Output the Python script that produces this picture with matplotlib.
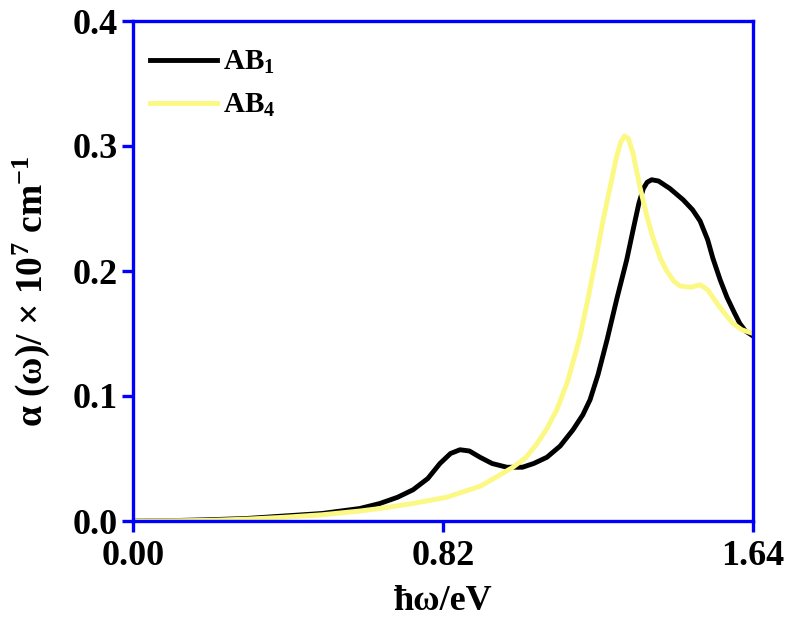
import matplotlib.pyplot as plt
import numpy as np

plt.rcParams['font.family'] = ['Liberation Serif', 'DejaVu Serif']
plt.rcParams['font.weight'] = 'bold'
plt.rcParams['mathtext.fontset'] = 'custom'
plt.rcParams['mathtext.rm'] = 'Liberation Serif:bold'
plt.rcParams['mathtext.it'] = 'Liberation Serif:bold'
plt.rcParams['mathtext.bf'] = 'Liberation Serif:bold'

# AB1 (black)
x_ab1 = [0.0, 0.1, 0.2, 0.3, 0.4, 0.5, 0.6, 0.653, 0.70, 0.741, 0.78, 0.812, 0.84, 0.865,
         0.89, 0.918, 0.95, 0.989, 1.03, 1.06, 1.095, 1.13, 1.164, 1.19, 1.209, 1.23,
         1.254, 1.28, 1.306, 1.325, 1.338, 1.350, 1.360, 1.372, 1.39, 1.42, 1.455, 1.48,
         1.50, 1.52, 1.534, 1.553, 1.571, 1.59, 1.605, 1.62, 1.64]
y_ab1 = [0.0, 0.0003, 0.001, 0.002, 0.004, 0.006, 0.010, 0.014, 0.019, 0.025, 0.034, 0.046,
         0.054, 0.057, 0.056, 0.051, 0.046, 0.043, 0.043, 0.046, 0.051, 0.060, 0.073,
         0.085, 0.097, 0.117, 0.145, 0.178, 0.209, 0.236, 0.254, 0.266, 0.271, 0.273,
         0.272, 0.266, 0.257, 0.249, 0.240, 0.225, 0.210, 0.193, 0.179, 0.167, 0.158,
         0.152, 0.148]

# AB4 (yellow)
x_ab4 = [0.0, 0.1, 0.2, 0.3, 0.4, 0.5, 0.6, 0.653, 0.74, 0.83, 0.92, 1.005, 1.04, 1.069,
         1.095, 1.121, 1.15, 1.182, 1.205, 1.227, 1.245, 1.262, 1.278, 1.290, 1.300,
         1.310, 1.322, 1.341, 1.36, 1.375, 1.395, 1.412, 1.43, 1.447, 1.475, 1.50, 1.52,
         1.545, 1.565, 1.587, 1.61, 1.64]
y_ab4 = [0.0, 0.0002, 0.0005, 0.0015, 0.003, 0.005, 0.008, 0.010, 0.014, 0.019, 0.028,
         0.043, 0.051, 0.062, 0.074, 0.089, 0.112, 0.147, 0.180, 0.214, 0.243, 0.267,
         0.290, 0.303, 0.308, 0.306, 0.295, 0.267, 0.243, 0.227, 0.210, 0.200, 0.192,
         0.188, 0.187, 0.189, 0.185, 0.174, 0.166, 0.158, 0.153, 0.150]

fig = plt.figure(figsize=(7.91, 6.25), dpi=100)
ax = fig.add_axes([0.168, 0.1664, 0.784, 0.80])

ax.plot(x_ab1, y_ab1, color='black', lw=3.5, label='AB$_1$',
        solid_joinstyle='round')
ax.plot(x_ab4, y_ab4, color='#fbf883', lw=3.5, label='AB$_4$',
        solid_joinstyle='round')

ax.set_xlim(0, 1.64)
ax.set_ylim(0, 0.4)
ax.set_xticks([0.0, 0.82, 1.64])
ax.set_xticklabels(['0.00', '0.82', '1.64'])
ax.set_yticks([0.0, 0.1, 0.2, 0.3, 0.4])
ax.set_yticklabels(['0.0', '0.1', '0.2', '0.3', '0.4'])

for s in ax.spines.values():
    s.set_color('#0000ff')
    s.set_linewidth(2.4)
ax.tick_params(direction='out', length=8, width=2.4, color='#0000ff',
               labelsize=26)
ax.tick_params(axis='x', pad=6)
ax.tick_params(axis='y', pad=3)

ax.set_xlabel('ħω/eV', fontsize=26, fontweight='bold', labelpad=8)
ax.set_ylabel('α (ω)/ × 10$^{7}$ cm$^{-1}$', fontsize=27, fontweight='bold')
ax.yaxis.set_label_coords(-0.13, 0.46)

ax.legend(loc='upper left', bbox_to_anchor=(0.013, 0.962), frameon=False,
          fontsize=21, handlelength=2.3, handletextpad=0.2, borderaxespad=0,
          borderpad=0.3, labelspacing=0.55)

fig.savefig('out.png', dpi=100)
